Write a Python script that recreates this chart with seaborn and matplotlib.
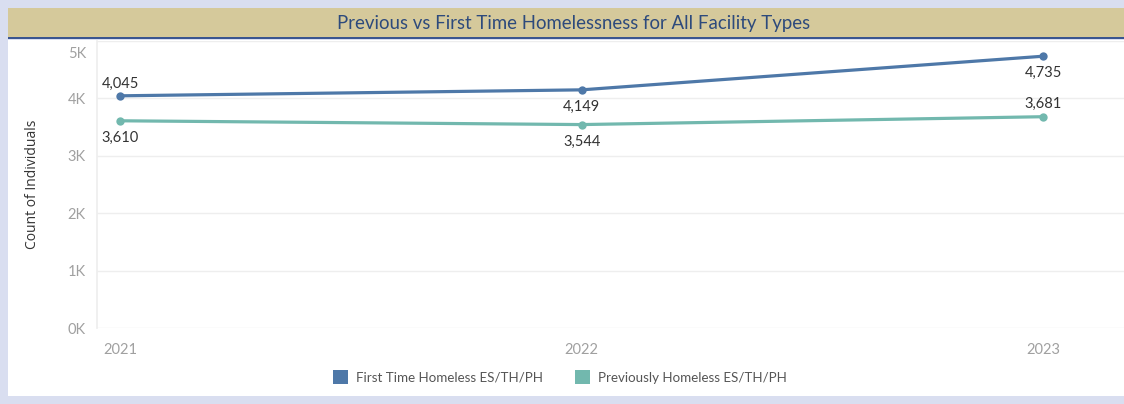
import numpy as np
import pandas as pd
import matplotlib
matplotlib.use("Agg")
import matplotlib.pyplot as plt
import matplotlib.transforms as mtransforms
import seaborn as sns
from matplotlib.patches import Rectangle, Patch

# data
years = [2021, 2022, 2023]
first_time = [4045, 4149, 4735]
previously = [3610, 3544, 3681]
series_names = ["First Time Homeless ES/TH/PH", "Previously Homeless ES/TH/PH"]
y_ticks = [0, 1000, 2000, 3000, 4000, 5000]
y_tick_labels = ["0K", "1K", "2K", "3K", "4K", "5K"]

colors = {"First Time Homeless ES/TH/PH": "#4e78a8",
          "Previously Homeless ES/TH/PH": "#72b8ae"}

df = pd.DataFrame({
    "year": years * 2,
    "count": first_time + previously,
    "series": [series_names[0]] * 3 + [series_names[1]] * 3,
})

sns.set_theme(style="white")
plt.rcParams["font.family"] = ["Lato", "DejaVu Sans"]

fig = plt.figure(figsize=(11.24, 4.04), dpi=100, facecolor="#d9def0")

# white panel + title banner (behind the axes)
fig.patches.append(Rectangle((8 / 1124, 1 - 396 / 404), 1 - 8 / 1124, 356 / 404,
                             transform=fig.transFigure, facecolor="white",
                             edgecolor="none", zorder=-3))
fig.patches.append(Rectangle((8 / 1124, 1 - 38 / 404), 1 - 8 / 1124, 30 / 404,
                             transform=fig.transFigure, facecolor="#d5c99b",
                             edgecolor="none", zorder=-2))
fig.patches.append(Rectangle((8 / 1124, 1 - 39 / 404), 1 - 8 / 1124, 2 / 404,
                             transform=fig.transFigure, facecolor="#3a5590",
                             edgecolor="none", zorder=-1))
fig.text(574 / 1124, 1 - 23 / 404, "Previous vs First Time Homelessness for All Facility Types",
         ha="center", va="center", fontsize=13.4, color="#2d4a7c")

ax = fig.add_axes([97 / 1124, 1 - 328 / 404, 1 - 97 / 1124, 287 / 404])
ax.set_facecolor("white")

sns.lineplot(data=df, x="year", y="count", hue="series", palette=colors,
             marker="o", markersize=6, markeredgewidth=0, linewidth=2.3,
             ax=ax, legend=False)

ax.set_xlim(2020.95, 2023.175)
ax.set_ylim(0, 5000)
ax.set_xticks(years)
ax.set_xticklabels([str(y) for y in years])
ax.set_yticks(y_ticks)
ax.set_yticklabels(y_tick_labels)
ax.tick_params(axis="both", colors="#a0a0a0", labelsize=10.5, length=0)
ax.tick_params(axis="y", pad=8)
ax.tick_params(axis="x", pad=11)
ax.grid(axis="y", color="#eeeeee", linewidth=1)
ax.set_xlabel("")
ax.set_ylabel("Count of Individuals", color="#333333", fontsize=10,
              family=["Open Sans", "DejaVu Sans"], labelpad=20)
for side in ["top", "right", "bottom"]:
    ax.spines[side].set_visible(False)
ax.spines["left"].set_color("#eeeeee")

# the top tick label sits a little below the edge, as in the reference
top_label = ax.get_yticklabels()[-1]
top_label.set_transform(top_label.get_transform() +
                        mtransforms.ScaledTranslation(0, -12 / 100, fig.dpi_scale_trans))

# value labels: above/below depending on the reference
offsets_first = [(0, 8.5), (0, -12.5), (0, -12)]
offsets_prev = [(0, -12.5), (0, -12.5), (0, 9)]
for x, y, off in zip(years, first_time, offsets_first):
    ax.annotate(f"{y:,}", (x, y), xytext=off, textcoords="offset points",
                ha="center", va="center", fontsize=10.5, color="#333333")
for x, y, off in zip(years, previously, offsets_prev):
    ax.annotate(f"{y:,}", (x, y), xytext=off, textcoords="offset points",
                ha="center", va="center", fontsize=10.5, color="#333333")

handles = [Patch(facecolor=colors[n], edgecolor="none", label=n) for n in series_names]
fig.legend(handles=handles, loc="center", bbox_to_anchor=(560 / 1124, 1 - 377 / 404),
           ncol=2, frameon=False, fontsize=9.6, labelcolor="#555555",
           handlelength=1.15, handleheight=1.15, columnspacing=2.4, handletextpad=0.6)

fig.savefig("out.png", dpi=100, facecolor=fig.get_facecolor())
